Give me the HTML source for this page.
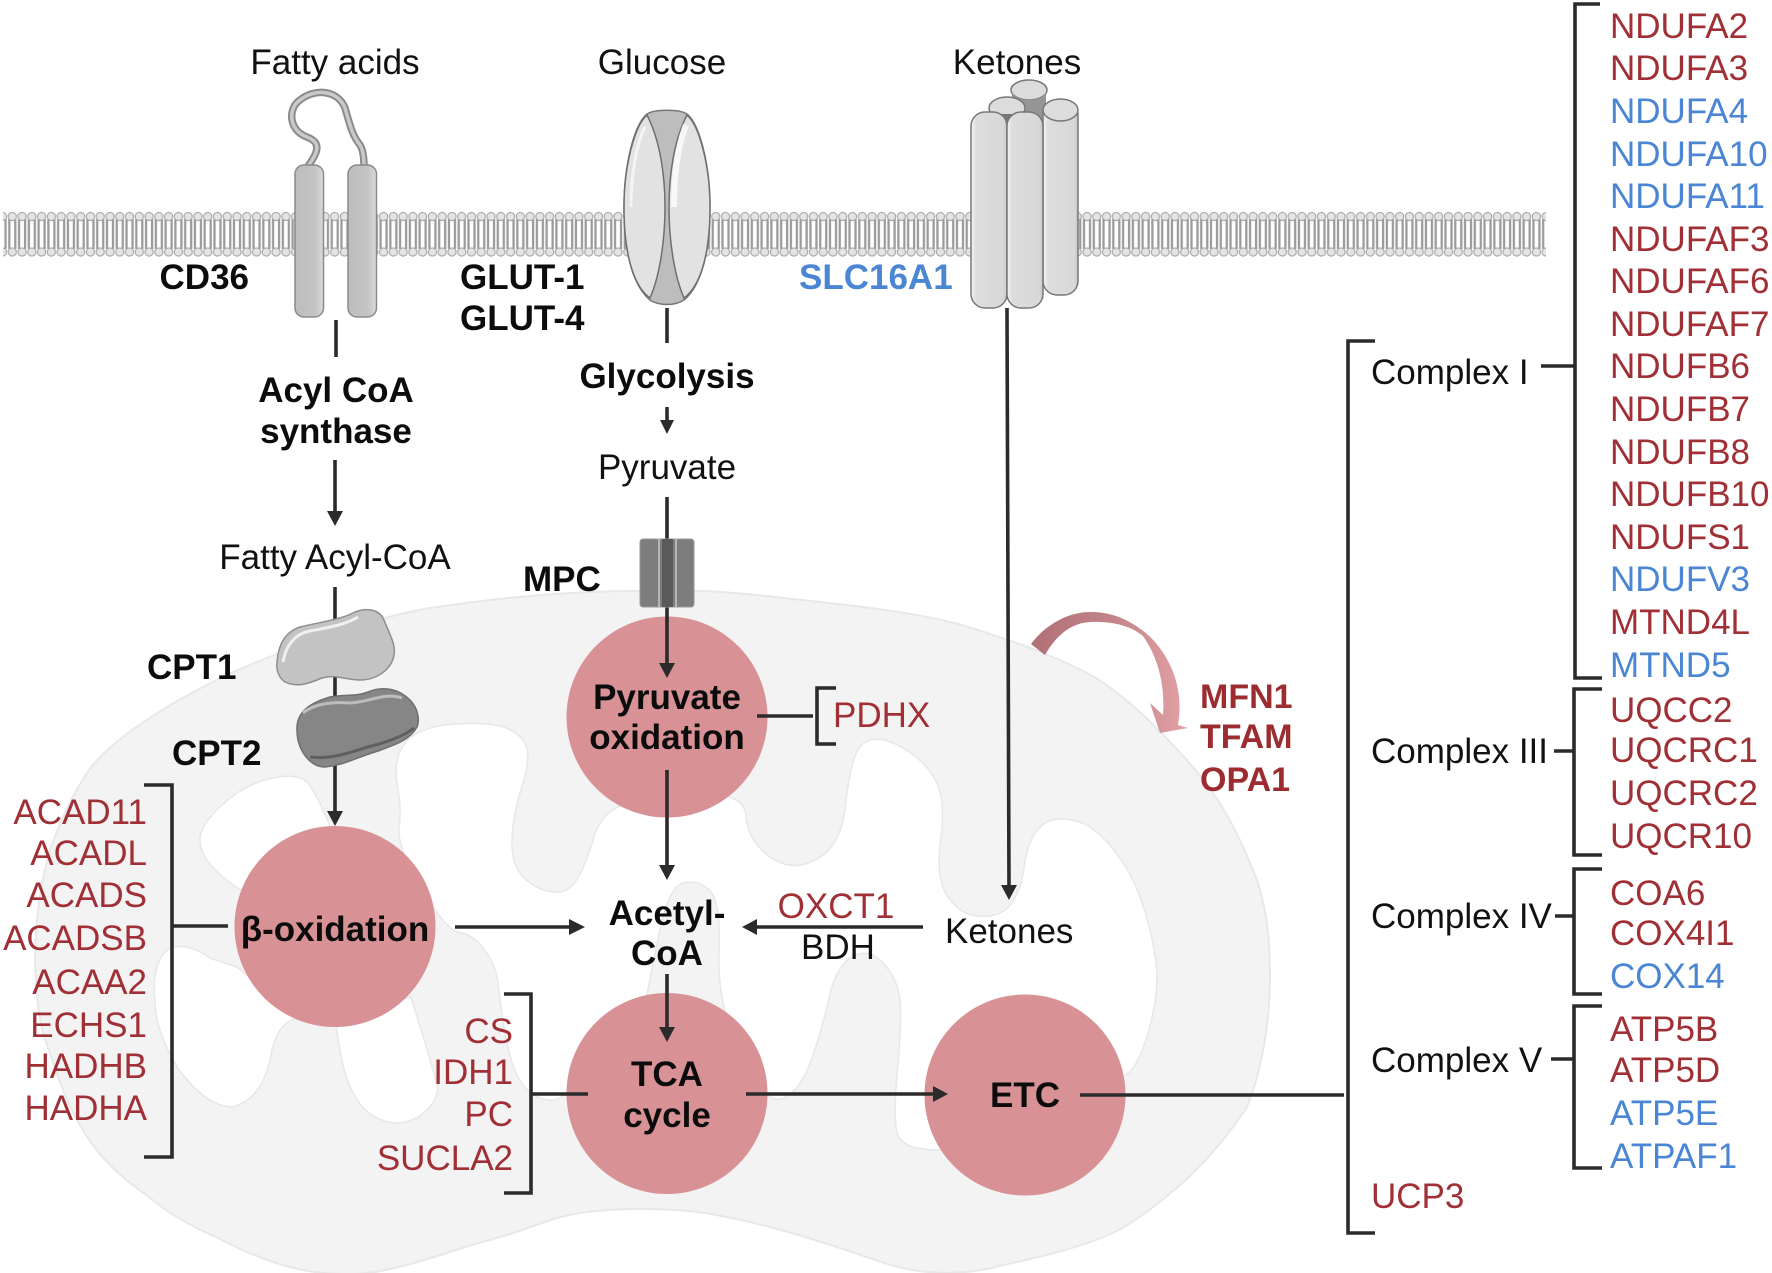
<!DOCTYPE html>
<html>
<head>
<meta charset="utf-8">
<style>
html,body{margin:0;padding:0;background:#fff;}
svg{display:block;}
text{font-family:"Liberation Sans",sans-serif;font-size:35px;fill:#111;}
.b{font-weight:bold;fill:#0c0c0c;}
.r{fill:#a03035;}
.u{fill:#4a86d3;}
.e{text-anchor:end;}
.m{text-anchor:middle;}
.l{stroke:#2b2b2b;stroke-width:3.6;fill:none;}
.h{fill:#2b2b2b;stroke:none;}
</style>
</head>
<body>
<svg width="1772" height="1273" viewBox="0 0 1772 1273" xmlns="http://www.w3.org/2000/svg">
<defs>
<pattern id="lip" patternUnits="userSpaceOnUse" x="-2.37" y="209" width="9.77" height="52">
<path d="M1.9 10V40M7.9 10V40" stroke="#9b9b9b" stroke-width="2.3" fill="none"/>
<circle cx="4.9" cy="7.5" r="4.1" fill="#e4e4e4" stroke="#a8a8a8" stroke-width="1.1"/>
<circle cx="4.9" cy="43" r="4.1" fill="#e4e4e4" stroke="#a8a8a8" stroke-width="1.1"/>
</pattern>
<linearGradient id="hel" x1="0" x2="1" y1="0" y2="0"><stop offset="0" stop-color="#bdbdbd"/><stop offset=".7" stop-color="#c4c4c4"/><stop offset="1" stop-color="#dadada"/></linearGradient>
<linearGradient id="cyl" x1="0" x2="1" y1="0" y2="0"><stop offset="0" stop-color="#f6f6f6"/><stop offset=".14" stop-color="#dddddd"/><stop offset=".9" stop-color="#d8d8d8"/><stop offset="1" stop-color="#c4c4c4"/></linearGradient>
<linearGradient id="arr" x1="0" x2="1" y1="0" y2="0"><stop offset="0" stop-color="#b07076"/><stop offset=".55" stop-color="#c4858a"/><stop offset="1" stop-color="#e4a2a6"/></linearGradient>
</defs>

<rect width="1772" height="1273" fill="#fff"/>

<!-- mitochondrion -->
<path d="M638 591C560 591 480 600 424 609C370 620 320 635 277 654C240 668 210 682 179 700C145 720 118 738 97 760C80 780 62 815 50 850C40 885 35 925 35 960C36 1000 40 1030 50 1053C60 1085 70 1110 83 1130C100 1160 125 1180 149 1197C170 1215 195 1228 216 1237C250 1255 285 1268 315 1272C340 1275 365 1275 385 1270C410 1265 435 1257 456 1250C480 1242 500 1238 522 1230C545 1222 560 1216 580 1213C600 1210 620 1209 640 1209C665 1209 685 1210 705 1213C735 1218 760 1224 788 1232C810 1238 830 1245 846 1250C870 1258 890 1266 912 1270C935 1274 970 1274 995 1267C1040 1257 1085 1247 1119 1230C1145 1215 1165 1198 1186 1180C1212 1155 1232 1130 1247 1107C1262 1070 1270 1020 1270 977C1270 945 1268 915 1257 880C1245 850 1232 820 1213 793C1205 780 1195 770 1186 759C1155 725 1130 700 1096 678C1055 655 1010 640 962 625C905 610 845 605 784 598C750 594 720 591 695 591Z" fill="#f3f3f3" stroke="#e8e8e8" stroke-width="2"/>
<g fill="#fff" stroke="#e8e8e8" stroke-width="1.6">
<path transform="translate(0,4.8) scale(1,0.992)" d="M406 743Q420 727 456 725Q491 723 506 729Q522 736 526 747Q531 759 522 788Q513 817 512 841Q511 866 523 879Q536 892 551 894Q567 897 576 883Q585 870 594 839Q603 808 635 804Q667 800 705 797Q744 794 746 818Q748 843 770 859Q793 875 817 861Q842 848 846 803Q851 759 860 748Q869 738 884 741Q900 745 918 760Q936 776 940 794Q945 812 940 848Q936 884 949 901Q962 919 982 919Q1003 919 1012 905Q1021 892 1024 870Q1027 848 1035 835Q1043 823 1056 821Q1070 819 1085 826Q1101 834 1119 859Q1137 884 1147 921Q1157 959 1157 981Q1157 1004 1149 1033Q1141 1062 1132 1073Q1123 1084 1061 1117Q1000 1150 968 1153Q936 1156 920 1153Q904 1151 898 1140Q893 1129 897 1077Q902 1026 900 1004Q898 982 883 966Q869 951 853 959Q837 968 830 997Q824 1026 813 1059Q802 1093 784 1102Q766 1111 741 1060Q717 1009 719 955Q721 901 708 891Q695 881 681 886Q668 892 659 937Q650 982 648 993Q647 1004 607 1055Q567 1107 549 1104Q531 1102 521 1086Q511 1071 505 1037Q500 1004 498 986Q496 968 484 952Q473 937 459 935Q446 933 421 890Q397 848 399 830Q402 812 397 785Q393 759 406 743Z"/>
<path d="M200 837C203 820 225 800 245 788C265 778 295 770 308 783C320 798 330 828 339 846L268 899L241 890C225 880 198 860 200 837Z"/>
<path d="M173 947C186 945 200 950 210 958L237 967L300 1018C285 1020 277 1030 272 1050C268 1075 258 1100 233 1107C210 1107 190 1085 177 1067C165 1045 155 1025 155 1000C152 975 158 952 173 947Z"/>
<path transform="translate(0,4.8) scale(1,0.992)" d="M335 1020C340 1060 345 1085 355 1100C365 1120 385 1128 400 1127C420 1125 435 1110 438 1093C430 1060 420 1030 411 1000Z"/>
</g>

<!-- membrane -->
<rect x="3" y="209" width="1543" height="52" fill="url(#lip)"/>

<!-- circles -->
<g fill="#d89296">
<circle cx="667" cy="717" r="100.5"/>
<circle cx="335" cy="926.5" r="100.5"/>
<circle cx="667" cy="1093.5" r="100.5"/>
<circle cx="1025" cy="1095" r="100.5"/>
</g>

<!-- connectors -->
<path class="l" d="M336 320V357"/>
<path class="l" d="M335 460V512"/>
<path class="h" d="M327 511H343L335 526Z"/>
<path class="l" d="M335 587V815"/>
<path class="h" d="M327 811H343L335 826Z"/>
<path class="l" d="M667 308V343"/>
<path class="l" d="M667 407V422"/>
<path class="h" d="M660 420H674L667 434Z"/>
<path class="l" d="M667 497V666"/>
<path class="h" d="M659 663H675L667 678Z"/>
<path class="l" d="M667 770V868"/>
<path class="h" d="M659 865H675L667 880Z"/>
<path class="l" d="M667 974V1030"/>
<path class="h" d="M659 1027H675L667 1042Z"/>
<path class="l" d="M455 927H572"/>
<path class="h" d="M569 919V935L585 927Z"/>
<path class="l" d="M172 926H228"/>
<path class="l" d="M144 785H172V1157H144"/>
<path class="l" d="M531 1094H588"/>
<path class="l" d="M504 994H531V1193H504"/>
<path class="l" d="M746 1094H936"/>
<path class="h" d="M933 1086V1102L948 1094Z"/>
<path class="l" d="M1080 1095H1344"/>
<path class="l" d="M1375 341H1348V1233H1375"/>
<path class="l" d="M1007 308L1009 888"/>
<path class="h" d="M1001 885H1017L1009 900Z"/>
<path class="l" d="M923 927H754"/>
<path class="h" d="M757 919V935L742 927Z"/>
<path class="l" d="M757 716H813"/>
<path class="l" d="M836 688H817V744H836"/>
<path class="l" d="M1541 366H1575"/>
<path class="l" d="M1600 4H1575V678H1602"/>
<path class="l" d="M1554 751H1573"/>
<path class="l" d="M1602 689H1574V855H1602"/>
<path class="l" d="M1555 916H1573"/>
<path class="l" d="M1602 869H1574V994H1602"/>
<path class="l" d="M1551 1059H1573"/>
<path class="l" d="M1602 1006H1574V1168H1602"/>

<!-- CD36 -->
<path d="M308 166C320 150 320 142 307 137C288 130 288 108 300 100C315 88 338 90 345 108C350 125 352 135 360 145C363 150 364 158 364 166" fill="none" stroke="#8b8b8b" stroke-width="7.5"/>
<path d="M308 166C320 150 320 142 307 137C288 130 288 108 300 100C315 88 338 90 345 108C350 125 352 135 360 145C363 150 364 158 364 166" fill="none" stroke="#c9c9c9" stroke-width="3.5"/>
<rect x="295" y="165" width="28.5" height="152" rx="9" fill="url(#hel)" stroke="#8a8a8a" stroke-width="1.5"/>
<rect x="348" y="165" width="28.5" height="152" rx="9" fill="url(#hel)" stroke="#8a8a8a" stroke-width="1.5"/>

<!-- GLUT -->
<path d="M647 114C655 109 679 109 687 114C700 125 710 165 710 207C710 250 702 285 684 300C675 306 659 306 650 300C632 285 624 250 624 207C624 165 634 125 647 114Z" fill="#bdbdbd" stroke="#777" stroke-width="1.5"/>
<path d="M647 115C635 125 624 165 624 207C624 250 632 285 650 298C660 275 665 240 665 207C665 175 660 140 647 115Z" fill="#e2e2e2" stroke="#6f6f6f" stroke-width="1.5"/>
<path d="M687 115C699 125 710 165 710 207C710 250 702 285 684 298C674 275 669 240 669 207C669 175 674 140 687 115Z" fill="#e2e2e2" stroke="#6f6f6f" stroke-width="1.5"/>
<path d="M674 207C674 175 678 145 686 125" stroke="#f8f8f8" stroke-width="6" fill="none"/>
<path d="M631 207C631 175 636 145 645 127" stroke="#f4f4f4" stroke-width="3" fill="none"/>

<!-- SLC16A1 -->
<ellipse cx="1029" cy="90" rx="18" ry="10" fill="#dcdcdc" stroke="#777" stroke-width="1.5"/>
<path d="M1012 93V125H1046V93C1040 102 1018 102 1012 93Z" fill="#969696"/>
<ellipse cx="1007" cy="108" rx="18" ry="11" fill="#dcdcdc" stroke="#777" stroke-width="1.5"/>
<rect x="1043" y="100" width="35" height="195" rx="14" fill="url(#cyl)" stroke="#777" stroke-width="1.5"/>
<ellipse cx="1060.5" cy="110" rx="17.5" ry="11" fill="#dcdcdc" stroke="#777" stroke-width="1.5"/>
<path d="M995 114H1019L1007 125Z" fill="#777"/>
<rect x="971" y="112" width="36" height="196" rx="14" fill="url(#cyl)" stroke="#777" stroke-width="1.5"/>
<rect x="1007" y="112" width="36" height="196" rx="14" fill="url(#cyl)" stroke="#777" stroke-width="1.5"/>

<!-- MPC -->
<rect x="640" y="539" width="54" height="68" rx="3" fill="#7d7d7d" stroke="#9a9a9a" stroke-width="1"/>
<rect x="662" y="539" width="11" height="68" fill="#5a5a5a"/>
<path d="M659 539V607M676 539V607" stroke="#c8c8c8" stroke-width="1.5"/>

<!-- CPT1 / CPT2 -->
<path d="M277 663C278 645 285 632 300 627C320 622 340 620 355 612C368 607 380 610 384 620C390 635 396 645 394 655C392 668 378 680 360 680C345 680 335 674 322 678C310 683 298 688 285 682C279 678 276 670 277 663Z" fill="#c3c3c3" stroke="#8e8e8e" stroke-width="1.5"/>
<path d="M283 662C286 645 295 634 310 631C330 627 345 625 358 617" stroke="#f0f0f0" stroke-width="3" fill="none"/>
<path d="M297 730C296 712 310 703 330 697C345 694 355 697 368 692C385 685 400 690 410 700C418 708 420 720 417 727C410 740 395 745 375 752C355 758 345 765 325 767C310 767 297 750 297 730Z" fill="#868686" stroke="#6f6f6f" stroke-width="1.5"/>
<path d="M303 713C315 703 335 702 350 703C370 702 385 692 402 698" stroke="#bdbdbd" stroke-width="3" fill="none"/>
<path d="M310 757C335 760 355 750 375 745C390 741 405 735 414 728" stroke="#5f5f5f" stroke-width="3" fill="none"/>

<!-- curved arrow -->
<path d="M1031 644C1045 625 1068 612 1090 612C1115 611 1140 625 1155 642C1172 662 1184 690 1178 725L1188 728L1160 733L1150 703L1163 715C1165 690 1160 660 1143 636C1130 625 1110 621 1090 622C1070 623 1055 637 1045 655Z" fill="url(#arr)"/>

<!-- black labels -->
<text class="m" x="335" y="74">Fatty acids</text>
<text class="m" x="662" y="74">Glucose</text>
<text class="m" x="1017" y="74">Ketones</text>
<text class="m" x="667" y="479">Pyruvate</text>
<text class="m" x="335" y="569">Fatty Acyl-CoA</text>
<text x="945" y="943">Ketones</text>
<text class="m" x="838" y="959">BDH</text>
<text x="1371" y="384">Complex I</text>
<text x="1371" y="763">Complex III</text>
<text x="1371" y="928">Complex IV</text>
<text x="1371" y="1072">Complex V</text>

<!-- bold labels -->
<text class="b e" x="249" y="289">CD36</text>
<text class="b" x="460" y="289">GLUT-1</text>
<text class="b" x="460" y="330">GLUT-4</text>
<text class="b u" x="799" y="289">SLC16A1</text>
<text class="b m" x="336" y="402">Acyl CoA</text>
<text class="b m" x="336" y="443">synthase</text>
<text class="b m" x="667" y="388">Glycolysis</text>
<text class="b" x="523" y="591">MPC</text>
<text class="b" x="147" y="679">CPT1</text>
<text class="b" x="172" y="765">CPT2</text>
<text class="b m" x="667" y="709">Pyruvate</text>
<text class="b m" x="667" y="749">oxidation</text>
<text class="b m" x="335" y="941">β-oxidation</text>
<text class="b m" x="667" y="925">Acetyl-</text>
<text class="b m" x="667" y="965">CoA</text>
<text class="b m" x="667" y="1086">TCA</text>
<text class="b m" x="667" y="1127">cycle</text>
<text class="b m" x="1025" y="1107">ETC</text>
<text class="b r" style="fill:#9c2c30;font-size:34px" x="1200" y="708">MFN1</text>
<text class="b r" style="fill:#9c2c30;font-size:34px" x="1200" y="748">TFAM</text>
<text class="b r" style="fill:#9c2c30;font-size:34px" x="1200" y="791">OPA1</text>

<!-- red left -->
<text class="r e" x="147" y="824">ACAD11</text>
<text class="r e" x="147" y="865">ACADL</text>
<text class="r e" x="147" y="907">ACADS</text>
<text class="r e" x="147" y="950">ACADSB</text>
<text class="r e" x="147" y="994">ACAA2</text>
<text class="r e" x="147" y="1037">ECHS1</text>
<text class="r e" x="147" y="1078">HADHB</text>
<text class="r e" x="147" y="1120">HADHA</text>
<text class="r e" x="513" y="1043">CS</text>
<text class="r e" x="513" y="1084">IDH1</text>
<text class="r e" x="513" y="1126">PC</text>
<text class="r e" x="513" y="1170">SUCLA2</text>
<text class="r" x="833" y="727">PDHX</text>
<text class="r m" x="836" y="918">OXCT1</text>

<!-- right list -->
<text class="r" x="1610" y="38">NDUFA2</text>
<text class="r" x="1610" y="80">NDUFA3</text>
<text class="u" x="1610" y="123">NDUFA4</text>
<text class="u" x="1610" y="166">NDUFA10</text>
<text class="u" x="1610" y="208">NDUFA11</text>
<text class="r" x="1610" y="251">NDUFAF3</text>
<text class="r" x="1610" y="293">NDUFAF6</text>
<text class="r" x="1610" y="336">NDUFAF7</text>
<text class="r" x="1610" y="378">NDUFB6</text>
<text class="r" x="1610" y="421">NDUFB7</text>
<text class="r" x="1610" y="464">NDUFB8</text>
<text class="r" x="1610" y="506">NDUFB10</text>
<text class="r" x="1610" y="549">NDUFS1</text>
<text class="u" x="1610" y="591">NDUFV3</text>
<text class="r" x="1610" y="634">MTND4L</text>
<text class="u" x="1610" y="677">MTND5</text>
<text class="r" x="1610" y="722">UQCC2</text>
<text class="r" x="1610" y="762">UQCRC1</text>
<text class="r" x="1610" y="805">UQCRC2</text>
<text class="r" x="1610" y="848">UQCR10</text>
<text class="r" x="1610" y="905">COA6</text>
<text class="r" x="1610" y="945">COX4I1</text>
<text class="u" x="1610" y="988">COX14</text>
<text class="r" x="1610" y="1041">ATP5B</text>
<text class="r" x="1610" y="1082">ATP5D</text>
<text class="u" x="1610" y="1125">ATP5E</text>
<text class="u" x="1610" y="1168">ATPAF1</text>
<text class="r" x="1371" y="1208">UCP3</text>
</svg>
</body>
</html>
